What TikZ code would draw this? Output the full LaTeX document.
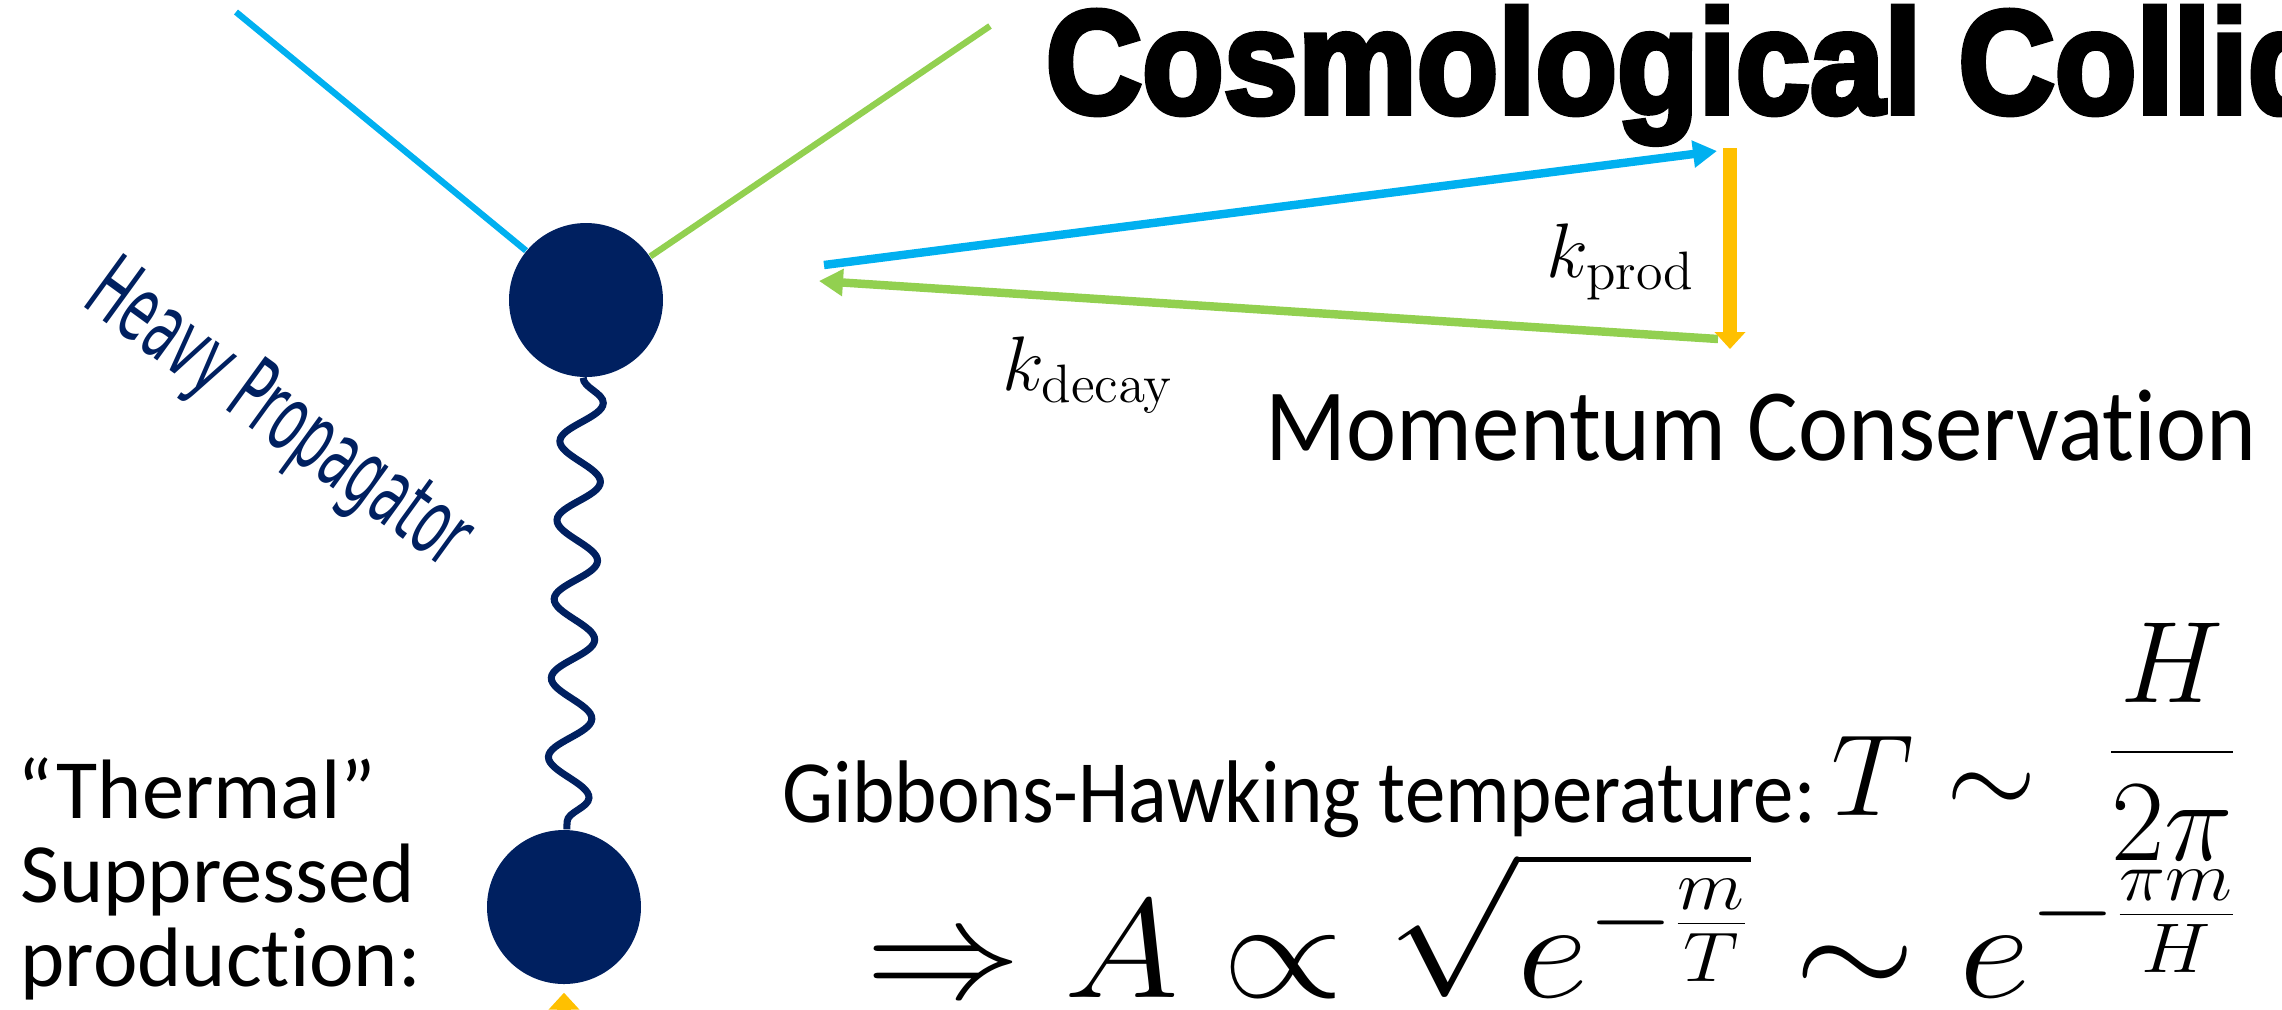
\RequirePackage{fix-cm}
\documentclass[tikz,border=0pt]{standalone}
\usepackage[no-math]{fontspec}
\setmainfont[Ligatures=NoCommon]{Carlito}
\newfontfamily\titlefont[FakeBold=4]{Liberation Sans Bold}
\newfontfamily\propfont[FakeStretch=0.55]{DejaVu Sans}
\usetikzlibrary{arrows.meta,positioning,decorations.pathmorphing}
\definecolor{heavyblue}{HTML}{002060}
\definecolor{kblue}{HTML}{00B0F0}
\definecolor{kgreen}{HTML}{92D050}
\definecolor{kyellow}{HTML}{FFC000}
\tikzset{
  vertex/.style={
    circle,
    fill=heavyblue,
    minimum size=1.54cm,
    inner sep=0pt
  },
  leg/.style={line width=1.8pt},
  propagator/.style={
    heavyblue,
    line width=2pt,
    decorate,
    decoration={snake,segment length=0.79cm,amplitude=0.21cm}
  },
  momarrow/.style={line width=2.4pt,-{Triangle[length=2.4mm,width=2.6mm]}},
  prodarrow/.style={kyellow,line width=3.8pt,-{Triangle[length=1.7mm,width=3.0mm]}},
  klabel/.style={font=\fontsize{22}{26}\selectfont,inner sep=0pt},
  bodytext/.style={font=\fontsize{24}{26}\selectfont,inner sep=0pt,anchor=base west},
  formula/.style={inner sep=0pt,anchor=base east}
}

\begin{document}
\begin{tikzpicture}
\useasboundingbox (0,0) rectangle (22.82,-10.09);

\node[vertex] (top) at (5.86,-3.00) {};
\node[vertex] (bot) at (5.64,-9.07) {};
\coordinate (bluein) at (2.36,-0.12);
\coordinate (greenin) at (9.90,-0.26);
\coordinate (prodsrc) at (5.64,-10.80);

\draw[leg,kblue] (bluein) -- (top);
\draw[leg,kgreen] (greenin) -- (top);
\draw[propagator] (top) -- (bot);
\draw[prodarrow,shorten >=0.08cm] (prodsrc) -- (bot);

\node[rotate=-36,text=heavyblue,inner sep=0pt,font=\propfont\fontsize{26}{30}\selectfont] (heavy) at (2.77,-4.18) {Heavy Propagator};

\node[anchor=base west,inner sep=0pt,font=\titlefont\fontsize{38}{44}\selectfont] (title) at (10.45,-1.13) {\scalebox{1}[1.1]{Cosmological Collid}};

\coordinate (blueback) at (8.24,-2.65);
\coordinate (bluehead) at (17.17,-1.51);
\coordinate (greenback) at (17.18,-3.39);
\coordinate (greenhead) at (8.19,-2.81);
\coordinate (yelback) at (17.30,-1.48);
\coordinate (yelhead) at (17.30,-3.49);
\draw[momarrow,kblue] (blueback) -- (bluehead);
\draw[momarrow,kgreen] (greenback) -- (greenhead);
\draw[prodarrow] (yelback) -- (yelhead);

\node[klabel] (kprod) at (16.21,-2.62) {$k_{\mathrm{prod}}$};
\node[klabel] (kdecay) at (10.88,-3.75) {$k_{\mathrm{decay}}$};

\node[inner sep=0pt,font=\fontsize{27}{32}\selectfont] (momcons) at (17.61,-4.26) {\scalebox{1}[1.08]{Momentum Conservation}};

\node[bodytext,font=\fontsize{23}{26}\selectfont] (gibbons) at (7.82,-8.22) {\scalebox{1}[1.1]{Gibbons-Hawking temperature:}};
\node[formula,font=\fontsize{33}{40}\selectfont] (temp) at (22.38,-7.81) {$\displaystyle \raisebox{-0.3em}{$T$}\mathrel{\raisebox{-0.3em}{$\sim$}}\mkern6mu\frac{H}{2\pi}$};
\node[formula,font=\fontsize{40}{46}\selectfont] (ampl) at (22.40,-9.97) {\scalebox{1.11}[1]{$\displaystyle \Rightarrow A\propto\sqrt{e^{-\frac{m}{T}}}\sim e^{-\frac{\pi m}{H}}$}};

\node[bodytext] (thermal) at (0.17,-8.18) {“Thermal”};
\node[bodytext] (suppr) at (0.20,-9.02) {Suppressed};
\node[bodytext] (prodn) at (0.20,-9.86) {production:};
\end{tikzpicture}
\end{document}
